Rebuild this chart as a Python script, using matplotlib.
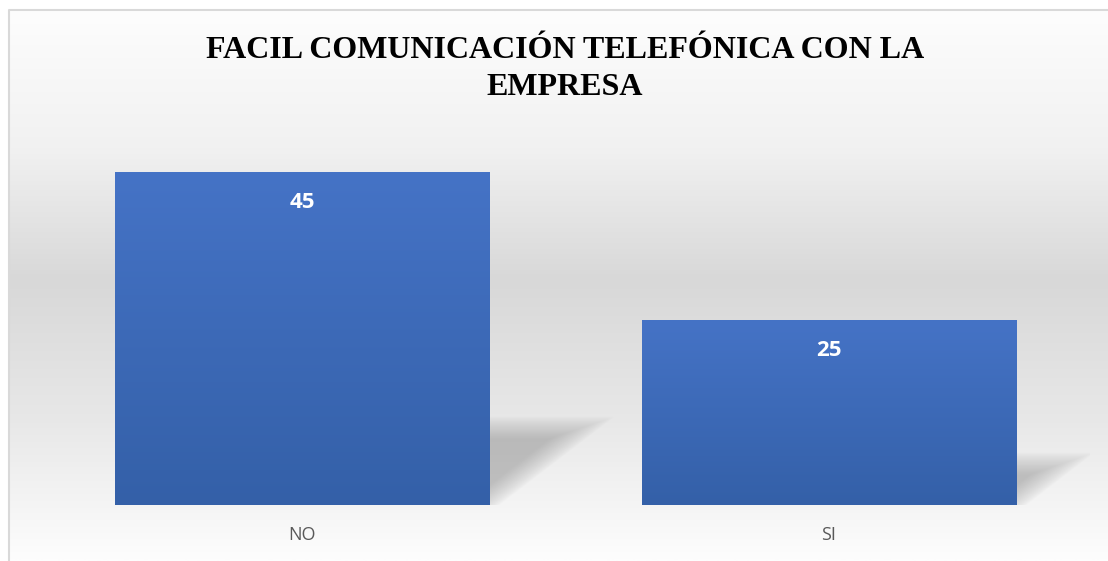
import numpy as np
import matplotlib.pyplot as plt
from matplotlib.colors import LinearSegmentedColormap

categorias = ["NO", "SI"]
valores = [45, 25]
titulo = "FACIL COMUNICACIÓN TELEFÓNICA CON LA\nEMPRESA"

W, H = 1108, 561
fig = plt.figure(figsize=(W / 100, H / 100), dpi=100)

# fondo con degradado (blanco arriba, gris al centro, casi blanco abajo)
bg = fig.add_axes([0, 0, 1, 1], zorder=0)
bg.set_xlim(0, W)
bg.set_ylim(H, 0)
bg.axis("off")
yy = np.linspace(0, 1, 400)[:, None]
cm_bg = LinearSegmentedColormap.from_list(
    "bg", [(0, "#fdfdfd"), (0.25, "#f1f1f1"), (0.49, "#d8d8d8"),
           (0.75, "#e8e8e8"), (1, "#fdfdfd")])
bg.imshow(np.repeat(yy, 2, axis=1), cmap=cm_bg, aspect="auto",
          extent=[9, W, H, 10], vmin=0, vmax=1, interpolation="bilinear")
bg.plot([9, 9, W], [H, 10, 10], color="#d9d9d9", lw=1.5)

# ejes del grafico
x0, x1, yb, yt = 38.5, 1092.5, 505, 136
ax = fig.add_axes([x0 / W, (H - yb) / H, (x1 - x0) / W, (yb - yt) / H], zorder=1)
ax.patch.set_alpha(0)
for s in ax.spines.values():
    s.set_visible(False)
ax.set_yticks([])
ax.set_xticks(range(len(categorias)))
ax.set_xticklabels(categorias, fontsize=13, color="#595959", family="Open Sans")
ax.tick_params(axis="x", length=0, pad=15)

px_x = (x1 - x0) / len(categorias)   # pixeles por unidad x
px_y = (yb - yt) / 50.0              # pixeles por unidad y

ancho = 0.71
cm_bar = LinearSegmentedColormap.from_list("bar", ["#3460a8", "#4573c6"])
grad = np.linspace(0, 1, 200)[:, None]
for i, v in enumerate(valores):
    l, r = i - ancho / 2, i + ancho / 2
    # sombra en perspectiva (triangulo difuminado a la derecha de la barra)
    hs = v * 0.245
    dx = v * px_y * 0.32 / px_x
    b = 11.0
    ex = dx * 1.25
    ey = hs + b / px_y
    X, Y = np.meshgrid(np.linspace(0, ex * px_x, 240), np.linspace(0, ey * px_y, 140))
    DX, DY = dx * px_x, hs * px_y
    d1 = hs * px_y - Y
    d2 = (Y * DX - X * DY) / np.hypot(DX, DY)
    d = np.minimum(d1, d2)
    a = np.clip((d + b * 0.6) / (2 * b), 0, 1) ** 0.8 * 0.42
    rgba = np.zeros(X.shape + (4,))
    rgba[..., :3] = 0.47
    rgba[..., 3] = a
    ax.imshow(rgba, origin="lower", extent=[r, r + ex, 0, ey], aspect="auto",
              zorder=1, interpolation="bilinear")
    # barra con degradado vertical
    ax.imshow(grad, cmap=cm_bar, origin="lower", extent=[l, r, 0, v],
              aspect="auto", zorder=2, vmin=0, vmax=1)
    ax.text(i, v - 4, str(v), ha="center", va="center", color="white",
            fontsize=16, fontweight="bold", family="Open Sans", zorder=3)
ax.set_xlim(-0.5, len(categorias) - 0.5)
ax.set_ylim(0, 50)

fig.text(565 / W, 1 - 69 / H, titulo, ha="center", va="center", fontsize=23,
         fontweight="bold", family="Liberation Serif", linespacing=1.35)

fig.savefig("out.png", dpi=100)
